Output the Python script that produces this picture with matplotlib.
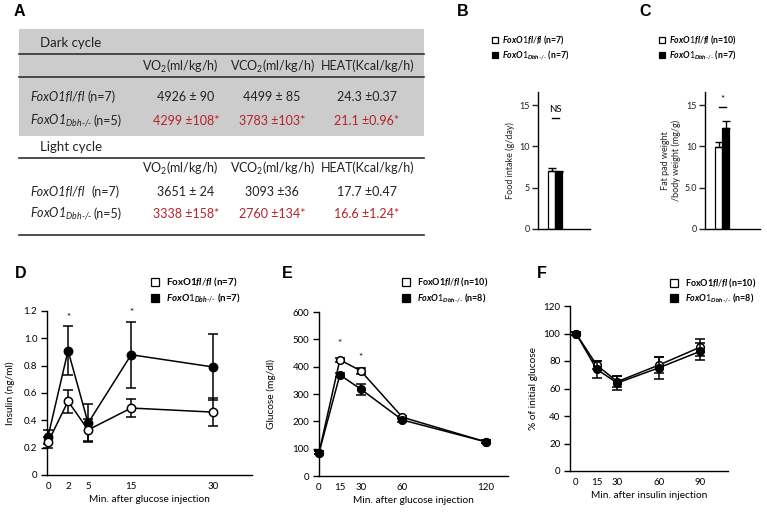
import numpy as np
import matplotlib
matplotlib.use("Agg")
import matplotlib.pyplot as plt
from matplotlib.patches import Rectangle

# ---------------- data ----------------
# Panel A table
tab_cols_dark = ["VO$_{\\mathregular{2}}$(ml/kg/h)", "VCO$_{\\mathregular{2}}$(ml/kg/h)", "HEAT(Kcal/kg/h)"]
dark_ctrl = ["4926 \u00b1 90", "4499 \u00b1 85", "24.3 \u00b10.37"]
dark_ko = ["4299 \u00b1108*", "3783 \u00b1103*", "21.1 \u00b10.96*"]
light_ctrl = ["3651 \u00b1 24", "3093 \u00b136", "17.7 \u00b10.47"]
light_ko = ["3338 \u00b1158*", "2760 \u00b1134*", "16.6 \u00b11.24*"]

# Panel B: food intake
food_mean = [7.0, 6.9]
food_err = [0.35, 0.15]
# Panel C: fat pad weight / body weight
fat_mean = [9.9, 12.2]
fat_err = [0.7, 0.85]

# Panel D: insulin
d_time = [0, 2, 5, 15, 30]
d_ctrl = [0.24, 0.54, 0.33, 0.49, 0.46]
d_ctrl_err = [0.04, 0.085, 0.08, 0.065, 0.10]
d_ko = [0.28, 0.91, 0.38, 0.88, 0.79]
d_ko_err = [0.05, 0.18, 0.14, 0.24, 0.24]

# Panel E: GTT
e_time = [0, 15, 30, 60, 120]
e_ctrl = [85, 425, 385, 215, 125]
e_ctrl_err = [6, 8, 10, 6, 5]
e_ko = [85, 370, 318, 205, 125]
e_ko_err = [6, 8, 20, 8, 5]

# Panel F: ITT
f_time = [0, 15, 30, 60, 90]
f_ctrl = [100, 77, 65, 77, 90]
f_ctrl_err = [1, 3, 4, 6, 6]
f_ko = [100, 74, 64, 75, 87]
f_ko_err = [1, 6, 5, 8, 6]

W, H = 767, 512
plt.rcParams['font.family'] = 'Lato'
plt.rcParams['mathtext.fontset'] = 'custom'
plt.rcParams['mathtext.it'] = 'Lato:italic:bold'
plt.rcParams['mathtext.rm'] = 'Lato'
plt.rcParams['mathtext.bf'] = 'Lato:bold'
plt.rcParams['axes.linewidth'] = 1.0

RED = '#b5222a'
fig = plt.figure(figsize=(7.67, 5.12), dpi=100)

def ax_px(l, t, r, b):
    return fig.add_axes([l / W, 1 - b / H, (r - l) / W, (b - t) / H])

# overlay axes in pixel coordinates for table, legends, labels
ov = fig.add_axes([0, 0, 1, 1], zorder=-1)
ov.set_xlim(0, W)
ov.set_ylim(H, 0)
ov.axis('off')

top = fig.add_axes([0, 0, 1, 1], zorder=10)
top.set_xlim(0, W)
top.set_ylim(H, 0)
top.axis('off')
top.patch.set_alpha(0)

# ---------------- Panel A table ----------------
ov.add_patch(Rectangle((19, 29), 405, 107, color='#cccccc', lw=0))
for y in (54, 77, 158, 235):
    ov.plot([19, 424], [y, y], color='#303030', lw=1.2)

hdr_x = [180, 272, 368]
val_x = [186, 272, 367]
fs_t = 9
ov.text(40, 43, "Dark cycle", fontsize=9.5, va='center', ha='left', color='#222')
ov.text(40, 147, "Light cycle", fontsize=9.5, va='center', ha='left', color='#222')
for yh in (66, 168):
    for x, s in zip(hdr_x, tab_cols_dark):
        ov.text(x, yh, s, fontsize=fs_t, ha='center', va='center', color='#222')

def row_label(y, ko, nx, n):
    if ko:
        ov.text(30, y, "FoxO1$_{\\mathregular{Dbh\u2010/\u2010}}$", fontsize=fs_t, style='italic',
                ha='left', va='center', color='#222')
    else:
        ov.text(30, y, "FoxO1fl/fl", fontsize=fs_t, style='italic', ha='left', va='center', color='#222')
    ov.text(nx, y, n, fontsize=fs_t, ha='left', va='center', color='#222')

row_label(97, False, 88, "(n=7)")
row_label(121, True, 94, "(n=5)")
row_label(192, False, 92, "(n=7)")
row_label(214, True, 94, "(n=5)")
for x, s in zip(val_x, dark_ctrl):
    ov.text(x, 97, s, fontsize=fs_t, ha='center', va='center', color='#222')
for x, s in zip(val_x, dark_ko):
    ov.text(x, 121, s, fontsize=fs_t, ha='center', va='center', color=RED)
for x, s in zip(val_x, light_ctrl):
    ov.text(x, 192, s, fontsize=fs_t, ha='center', va='center', color='#222')
for x, s in zip(val_x, light_ko):
    ov.text(x, 214, s, fontsize=fs_t, ha='center', va='center', color=RED)

# ---------------- panel letters ----------------
for lab, x, y in [("A", 14, 12), ("B", 457, 12), ("C", 639, 12), ("D", 15, 273), ("E", 282, 273), ("F", 537, 273)]:
    top.text(x, y, lab, fontsize=11.5, fontweight='bold', family='Liberation Sans', ha='left', va='center')

# ---------------- legends ----------------
def legend(sqx, tx, y1, y2, l1, l2, fs, ms):
    top.plot([sqx], [y1], marker='s', ms=ms, mfc='white', mec='black', mew=0.9, ls='none')
    top.plot([sqx], [y2], marker='s', ms=ms, mfc='black', mec='black', mew=0.9, ls='none')
    top.text(tx, y1, l1, fontsize=fs, fontweight='bold', ha='left', va='center')
    top.text(tx, y2, l2, fontsize=fs, fontweight='bold', ha='left', va='center')

ko_lab = "$\\mathit{FoxO1}_{\\mathit{Dbh\u2010/\u2010}}$"
legend(495, 502, 40, 55, "$\\mathit{FoxO1fl/fl}$ (n=7)", ko_lab + " (n=7)", 6.3, 5)
legend(662, 669, 40, 55, "$\\mathit{FoxO1fl/fl}$ (n=10)", ko_lab + " (n=7)", 6.3, 5)
legend(155, 166, 282, 298, "FoxO1$\\mathit{fl/fl}$ (n=7)", ko_lab + " (n=7)", 7, 6)
legend(406, 417, 282, 298, "FoxO1$\\mathit{fl/fl}$ (n=10)", ko_lab + " (n=8)", 6.5, 6)
legend(674, 685, 283, 298, "FoxO1$\\mathit{fl/fl}$ (n=10)", ko_lab + " (n=8)", 6.5, 6)

# ---------------- bar panels B, C ----------------
def bar_panel(ax, means, errs, ylabel, xl, ticklabels, sig, sig_y, line_y, lpad):
    ax.bar([0, 1], means, width=1.0, color=['white', 'black'], edgecolor='black', lw=0.9, zorder=2)
    ax.errorbar([0, 1], means, yerr=[[0, 0], errs], fmt='none', ecolor='black', elinewidth=1.0,
                capsize=3, capthick=1.0, zorder=3)
    ax.set_xlim(*xl)
    ax.set_ylim(0, 16.6)
    ax.set_yticks([0, 5, 10, 15])
    ax.set_yticklabels(ticklabels)
    ax.set_xticks([])
    for s in ('top', 'right'):
        ax.spines[s].set_visible(False)
    ax.tick_params(axis='y', length=4, width=1.0, labelsize=6.5, pad=2, colors='#222')
    ax.set_ylabel(ylabel, fontsize=6.5, color='#222', labelpad=lpad)
    ax.plot([0, 1], [line_y, line_y], color='black', lw=1.0)
    ax.text(0.5, sig_y, sig, ha='center', va='center', fontsize=7)

axB = ax_px(538, 92, 590, 229)
bar_panel(axB, food_mean, food_err, "Food intake (g/day)", (-2.0, 5.43), ["0", "5", "10", "15"],
          "NS", 14.5, 13.5, 3)
axC = ax_px(705, 92, 760, 229)
bar_panel(axC, fat_mean, fat_err, "Fat pad weight\n/body weight (mg/g)", (-1.93, 5.93),
          ["0", "5.0", "10", "15"], "*", 15.7, 14.75, 2.5)

# ---------------- line panels ----------------
def style_line_ax(ax, xticks, yticks, yticklabels, xlabel, ylabel, ylabelpad):
    for s in ('top', 'right'):
        ax.spines[s].set_visible(False)
    ax.set_xticks(xticks)
    ax.set_xticklabels([str(t) for t in xticks])
    ax.set_yticks(yticks)
    ax.set_yticklabels(yticklabels)
    ax.tick_params(axis='x', length=0, labelsize=7, pad=5)
    ax.tick_params(axis='y', length=4, width=1.0, labelsize=7, pad=3)
    ax.set_xlabel(xlabel, fontsize=7.3, labelpad=3)
    ax.set_ylabel(ylabel, fontsize=7.3, labelpad=ylabelpad)

def series(ax, x, y, e, fc, z, ms):
    ax.errorbar(x, y, yerr=e, fmt='-o', color='black', mfc=fc, mec='black', ms=ms, mew=1.1,
                lw=1.1, elinewidth=1.1, capsize=3.5, capthick=1.1, zorder=z, clip_on=False)

# D
kx = [-0.2, 0, 2, 5, 15, 30, 40]
kp = [47, 48, 68, 88, 131, 213, 268]
fwd = lambda v: np.interp(v, kx, kp)
inv = lambda p: np.interp(p, kp, kx)
axD = ax_px(47, 311, 252, 475)
axD.set_xscale('function', functions=(fwd, inv))
series(axD, d_time, d_ko, d_ko_err, 'black', 3, 6)
series(axD, d_time, d_ctrl, d_ctrl_err, 'white', 4, 6)
axD.set_xlim(-0.2, 37.0)
axD.set_ylim(0, 1.2)
style_line_ax(axD, d_time, [0, 0.2, 0.4, 0.6, 0.8, 1.0, 1.2],
              ["0", "0.2", "0.4", "0.6", "0.8", "1.0", "1.2"],
              "Min. after glucose injection", "Insulin (ng/ml)", 6)
axD.text(2, 1.15, "*", ha='center', va='center', fontsize=7)
axD.text(15, 1.19, "*", ha='center', va='center', fontsize=7)

# E
axE = ax_px(319, 312, 508, 476)
series(axE, e_time, e_ctrl, e_ctrl_err, 'white', 3, 5.5)
series(axE, e_time, e_ko, e_ko_err, 'black', 4, 5.5)
axE.set_xlim(0, 136)
axE.set_ylim(0, 600)
style_line_ax(axE, e_time, [0, 100, 200, 300, 400, 500, 600],
              ["0", "100", "200", "300", "400", "500", "600"],
              "Min. after glucose injection", "Glucose (mg/dl)", 12)
axE.text(15, 485, "*", ha='center', va='center', fontsize=7)
axE.text(30, 435, "*", ha='center', va='center', fontsize=7)

# F
axF = ax_px(570, 306, 728, 471)
series(axF, f_time, f_ctrl, f_ctrl_err, 'white', 3, 5.5)
series(axF, f_time, f_ko, f_ko_err, 'black', 4, 5.5)
axF.set_xlim(-4.35, 110.3)
axF.set_ylim(0, 120)
style_line_ax(axF, f_time, [0, 20, 40, 60, 80, 100, 120],
              ["0", "20", "40", "60", "80", "100", "120"],
              "Min. after insulin injection", "% of initial glucose", 4)

fig.savefig("out.png", dpi=100)
